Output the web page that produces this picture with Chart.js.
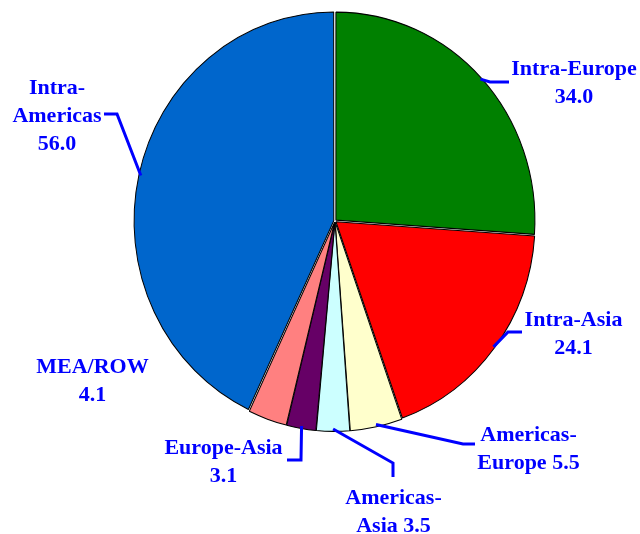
<!DOCTYPE html>
<html>
<head>
<meta charset="utf-8">
<script src="https://cdn.jsdelivr.net/npm/chart.js@4/dist/chart.umd.min.js"></script>
<style>
  html, body { margin: 0; padding: 0; background: #fff; }
  #wrap { width: 640px; height: 534px; position: relative; }
</style>
</head>
<body>
<div id="wrap"><canvas id="c" width="640" height="534"></canvas></div>
<script>
// ---- data ----
const categories = ['Intra-Europe', 'Intra-Asia', 'Americas-Europe', 'Americas-Asia', 'Europe-Asia', 'MEA/ROW', 'Intra-Americas'];
const values = [34.0, 24.1, 5.5, 3.5, 3.1, 4.1, 56.0];

// ---- styles ----
const sliceColors = ['#008000', '#FF0000', '#FFFFCC', '#CCFFFF', '#660066', '#FF8080', '#0066CC'];
const labelColor = '#0000FF';
const yStretch = 208 / 199;

// ---- label layout (text lines, anchor, leader path) ----
const labelLayout = [
  { lines: ['Intra-Europe', '{v}'], x: 574, y: 75, leader: [[490, 82], [509, 82]] },
  { lines: ['Intra-Asia', '{v}'], x: 573.5, y: 326, leader: [[508, 332], [522, 332]] },
  { lines: ['Americas-', 'Europe {v}'], x: 528.5, y: 441, leader: [[463, 444], [475, 444]] },
  { lines: ['Americas-', 'Asia {v}'], x: 393.5, y: 504, leader: [[393, 463], [393, 477]] },
  { lines: ['Europe-Asia', '{v}'], x: 223.5, y: 454, leader: [[301, 460], [287, 460]] },
  { lines: ['MEA/ROW', '{v}'], x: 92.5, y: 373, leader: null },
  { lines: ['Intra-', 'Americas', '{v}'], x: 57, y: 94, leader: [[117, 114], [104, 114]] }
];

const stretchPlugin = {
  id: 'stretch',
  beforeDatasetsDraw(chart) {
    const arc = chart.getDatasetMeta(0).data[0];
    const ctx = chart.ctx;
    ctx.save();
    ctx.translate(arc.x, arc.y);
    ctx.scale(1, yStretch);
    ctx.translate(-arc.x, -arc.y);
  },
  afterDatasetsDraw(chart) {
    chart.ctx.restore();
  }
};

const labelPlugin = {
  id: 'labels',
  afterDraw(chart) {
    const ctx = chart.ctx;
    const meta = chart.getDatasetMeta(0);
    ctx.save();
    meta.data.forEach((arc, i) => {
      const L = labelLayout[i];
      if (L.leader) {
        const mid = (arc.startAngle + arc.endAngle) / 2;
        const sx = arc.x + Math.cos(mid) * arc.outerRadius;
        const sy = arc.y + Math.sin(mid) * arc.outerRadius * yStretch;
        ctx.beginPath();
        ctx.moveTo(sx, sy);
        L.leader.forEach(p => ctx.lineTo(p[0], p[1]));
        ctx.strokeStyle = labelColor;
        ctx.lineWidth = 3;
        ctx.lineJoin = 'miter';
        ctx.stroke();
      }
      ctx.fillStyle = labelColor;
      ctx.font = 'bold 22px "Liberation Serif", "Times New Roman", serif';
      ctx.textAlign = 'center';
      ctx.textBaseline = 'alphabetic';
      L.lines.forEach((t, k) => {
        ctx.fillText(t.replace('{v}', values[i].toFixed(1)), L.x, L.y + k * 28);
      });
    });
    ctx.restore();
  }
};

new Chart(document.getElementById('c'), {
  type: 'pie',
  data: {
    labels: categories,
    datasets: [{
      data: values,
      backgroundColor: sliceColors,
      borderColor: '#000000',
      borderWidth: 1,
      offset: 5,
      radius: 199
    }]
  },
  options: {
    responsive: false,
    animation: false,
    layout: { padding: { left: 30, right: 0, top: 0, bottom: 92 } },
    plugins: {
      legend: { display: false },
      tooltip: { enabled: false }
    }
  },
  plugins: [stretchPlugin, labelPlugin]
});
</script>
</body>
</html>
